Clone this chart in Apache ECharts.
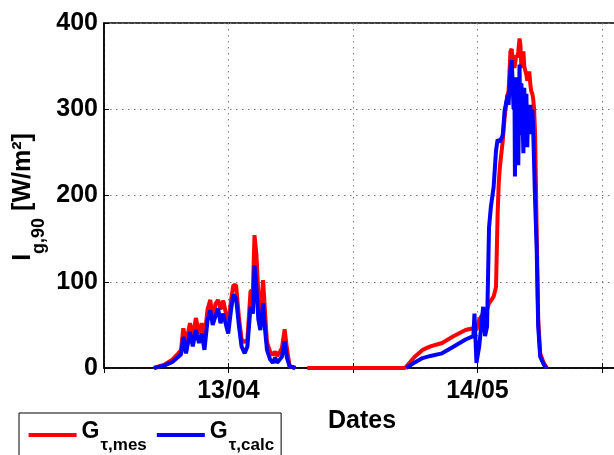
<!DOCTYPE html>
<html>
<head>
<meta charset="utf-8">
<script src="https://cdn.jsdelivr.net/npm/echarts@6/dist/echarts.min.js"></script>
<style>html,body{margin:0;padding:0;background:#fff}#c{width:614px;height:455px}</style>
</head>
<body>
<div id="c"></div>
<script>
// Sample position along the time axis (100 units between grid lines)
var sampleX = [
  40.2, 48.7, 54.9, 59.7, 61.9, 63.7, 65.9, 69.1, 71.3, 73.8,
  76.3, 78.5, 80.7, 83.2, 85.4, 87.3, 89.5, 91.7, 93.6, 95.8,
  98.0, 99.8, 102.0, 103.9, 106.1, 108.3, 110.5, 113.0, 115.2, 117.7,
  119.6, 120.9, 122.4, 124.0, 125.6, 127.8, 129.4, 130.9, 133.4, 135.6,
  137.5, 139.1, 141.3, 142.9, 145.1, 146.9, 149.1, 153.8, 156.0, 163.3,
  241.8, 242.7, 249.6, 255.9, 262.2, 271.6, 281.0, 290.4, 296.7, 297.6,
  299.2, 301.4, 304.6, 306.1, 307.7, 309.3, 310.8, 313.0, 314.9, 316.2,
  317.1, 318.0, 319.3, 320.3, 321.8, 322.4, 324.3, 325.0, 326.5, 327.5,
  328.1, 329.0, 329.7, 330.1, 331.2, 332.0, 332.8, 333.8, 334.5, 335.3,
  336.2, 336.9, 337.6, 338.5, 339.3, 340.0, 340.8, 341.6, 342.4, 343.2,
  344.0, 344.7, 345.5, 346.3, 347.6, 348.8, 350.4, 353.2, 355.7
];
var gMes = [
  0, 4, 9.6, 17, 21, 46, 30, 52, 35, 58,
  40, 52, 36, 68, 79, 56, 74, 79, 68, 78,
  63, 50, 78, 96, 96, 60, 33, 30, 33, 89,
  90, 154, 132, 86, 56, 102, 64, 30, 19, 15,
  19, 14, 19, 23, 45, 23, 2, 0, null, 0,
  0, 1, 13, 21, 25, 29, 37, 44, 46, 47,
  44, 56, 63, 60, 68, 75, 78, 83, 94, 179,
  215, 233, 250, 263, 290, 298, 318, 321, 367, 370,
  358, 352, 348, 350, 363, 360, 367, 382, 375, 348,
  355, 367, 350, 344, 340, 333, 338, 344, 330, 321,
  318, 313, 300, 271, 156, 56, 17, 6, 0
];
var gCalc = [
  0, 3, 7, 13, 16, 36, 17, 42, 25, 44,
  29, 40, 21, 56, 67, 50, 60, 69, 52, 63,
  50, 40, 67, 85, 81, 50, 25, 17, 25, 71,
  63, 119, 94, 56, 44, 75, 44, 21, 10, 6,
  12, 6, 10, 13, 31, 12, 2, 0, null, null,
  null, 0, 6.5, 11.5, 14, 17, 25, 33, 37, 63,
  6, 25, 71, 37, 48, 163, 187, 210, 252, 265,
  267, 262, 263, 270, 298, 300, 317, 305, 348, 357,
  337, 300, 330, 222, 337, 300, 235, 352, 270, 330,
  290, 249, 325, 262, 318, 256, 300, 285, 305, 271,
  300, 280, 278, 194, 137, 48, 13, 4, 0
];
var xTickLabels = ['', '13/04', '', '14/05', ''];
var yTicks = [0, 100, 200, 300, 400];
var seriesNames = ['G\u03c4,mes', 'G\u03c4,calc'];

function pairs(ys) {
  return sampleX.map(function (x, i) { return [x, ys[i]]; });
}

var FONT = '"Liberation Sans", Arial, sans-serif';
var chart = echarts.init(document.getElementById('c'), null, {renderer: 'canvas'});
chart.setOption({
  animation: false,
  backgroundColor: '#fff',
  grid: {left: 104, right: -6, top: 23, bottom: 87, show: true, borderColor: '#000', borderWidth: 1.5,
         containLabel: false, outerBoundsMode: 'none'},
  xAxis: [{
    type: 'value', min: 0, max: 414.5, interval: 100, position: 'bottom',
    axisLine: {show: true, onZero: false, lineStyle: {color: '#000', width: 1.5}},
    axisTick: {show: true, inside: true, length: 5, lineStyle: {color: '#000', width: 1}},
    splitLine: {show: true, lineStyle: {color: '#777', width: 1, type: [1.5, 4.5]}},
    axisLabel: {
      margin: 11, color: '#000', fontFamily: FONT, fontWeight: 'bold', fontSize: 25,
      formatter: function (v) { var i = Math.round(v / 100); return (Math.abs(v - i * 100) < 1e-6 && xTickLabels[i]) ? xTickLabels[i] : ''; }
    },
    name: 'Dates', nameLocation: 'middle', nameGap: 35,
    nameTextStyle: {color: '#000', fontFamily: FONT, fontWeight: 'bold', fontSize: 25}
  }, {
    type: 'value', min: 0, max: 414.5, interval: 100, position: 'top',
    axisLine: {show: false},
    axisTick: {show: true, inside: true, length: 5, lineStyle: {color: '#000', width: 1}},
    splitLine: {show: false}, axisLabel: {show: false}
  }],
  yAxis: {
    type: 'value', min: 0, max: 400, interval: 100,
    axisLine: {show: true, lineStyle: {color: '#000', width: 1.5}},
    axisTick: {show: true, inside: true, length: 5, lineStyle: {color: '#000', width: 1}},
    splitLine: {show: true, lineStyle: {color: '#777', width: 1, type: [1.5, 4.5]}},
    axisLabel: {margin: 6, color: '#000', fontFamily: FONT, fontWeight: 'bold', fontSize: 25,
      formatter: function (v) { return yTicks.indexOf(v) >= 0 ? String(v) : ''; }}
  },
  legend: {
    left: 19, top: 413, orient: 'horizontal',
    icon: 'rect', itemWidth: 48, itemHeight: 4, itemGap: 10,
    padding: [3.5, 7, 4, 9.6],
    borderColor: '#000', borderWidth: 1, backgroundColor: '#fff',
    data: seriesNames,
    formatter: function (name) { return '{g|G}{s|' + name.slice(1) + '}'; },
    textStyle: {
      color: '#000', fontFamily: FONT, fontWeight: 'bold',
      rich: {
        g: {fontSize: 23, lineHeight: 22, fontWeight: 'bold', fontFamily: FONT, color: '#000', padding: [0, 1, 7, 0]},
        s: {fontSize: 17, lineHeight: 17, fontWeight: 'bold', fontFamily: FONT, color: '#000', padding: [20, 0, 0, 0]}
      }
    }
  },
  graphic: [{
    type: 'text', x: 23, y: 197, rotation: Math.PI / 2, silent: true,
    style: {
      text: '{a|I}{b|g,90}{a| [W/m\u00b2]}',
      align: 'center', verticalAlign: 'middle',
      rich: {
        a: {fontSize: 25, lineHeight: 25, fontWeight: 'bold', fontFamily: FONT, fill: '#000', color: '#000'},
        b: {fontSize: 18, lineHeight: 18, fontWeight: 'bold', fontFamily: FONT, fill: '#000', color: '#000', padding: [32, 0, 0, 0]}
      }
    }
  }],
  series: [{
    name: seriesNames[0], type: 'line', xAxisIndex: 0, data: pairs(gMes),
    showSymbol: false, connectNulls: false,
    lineStyle: {color: '#ff0000', width: 4}, itemStyle: {color: '#ff0000'}, z: 2
  }, {
    name: seriesNames[1], type: 'line', xAxisIndex: 0, data: pairs(gCalc),
    showSymbol: false, connectNulls: false,
    lineStyle: {color: '#0000ff', width: 4}, itemStyle: {color: '#0000ff'}, z: 3
  }]
});
</script>
</body>
</html>
